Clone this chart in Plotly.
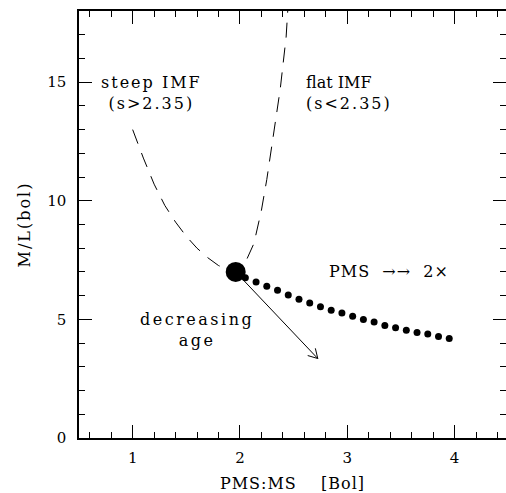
import math
import plotly.graph_objects as go

# ---------------- data ----------------
steep_x = [1.00, 1.10, 1.20, 1.30, 1.40, 1.50, 1.60, 1.70, 1.80, 1.90, 1.96]
steep_y = [13.0, 11.8, 10.7, 9.8, 9.1, 8.5, 8.0, 7.6, 7.27, 7.06, 7.0]
flat_x = [1.96, 2.05, 2.13, 2.20, 2.25, 2.31, 2.375, 2.43, 2.445]
flat_y = [7.0, 7.4, 8.2, 9.6, 10.9, 12.8, 14.7, 16.9, 18.0]

pms_x = [2.05, 2.15, 2.25, 2.35, 2.45, 2.55, 2.65, 2.75, 2.85, 2.95,
         3.05, 3.15, 3.25, 3.35, 3.45, 3.55, 3.65, 3.75, 3.85, 3.95]
pms_y = [6.76, 6.58, 6.40, 6.23, 6.03, 5.85, 5.69, 5.53, 5.39, 5.27,
         5.13, 5.00, 4.89, 4.74, 4.65, 4.54, 4.45, 4.38, 4.28, 4.19]

big_x = [1.96]
big_y = [7.0]

arrow_start = [1.96, 7.0]
arrow_end = [2.725, 3.35]

x_major = [1, 2, 3, 4]
y_major = [0, 5, 10, 15]

# ---------------- layout constants ----------------
W, H = 506, 493
ML, MR, MT, MB = 79, 0, 11, 55
x_range = [0.5, 4.479]
y_range = [0, 18]
FONT = "DejaVu Serif"


def sp(t, ls=2.0):
    return f'<span style="letter-spacing:{ls}px">{t}</span>'


fig = go.Figure()

# dashed IMF curve
fig.add_trace(go.Scatter(
    x=steep_x + flat_x[1:], y=steep_y + flat_y[1:], mode="lines",
    line=dict(color="black", width=1, dash="15px,10px"),
    hoverinfo="skip", showlegend=False))

# arrow shaft + open head (head computed in pixel space)
px_x = (W - ML - MR) / (x_range[1] - x_range[0])
px_y = (H - MT - MB) / (y_range[1] - y_range[0])
dx = (arrow_end[0] - arrow_start[0]) * px_x
dy = (arrow_end[1] - arrow_start[1]) * px_y
L = math.hypot(dx, dy)
ux, uy = -dx / L, -dy / L
head_len, ang = 10.5, math.radians(30)
heads = []
for s in (1, -1):
    c, si = math.cos(s * ang), math.sin(s * ang)
    rx, ry = ux * c - uy * si, ux * si + uy * c
    heads.append((arrow_end[0] + rx * head_len / px_x, arrow_end[1] + ry * head_len / px_y))

fig.add_trace(go.Scatter(
    x=[arrow_start[0], arrow_end[0], None, heads[0][0], arrow_end[0], heads[1][0]],
    y=[arrow_start[1], arrow_end[1], None, heads[0][1], arrow_end[1], heads[1][1]],
    mode="lines", line=dict(color="black", width=1),
    hoverinfo="skip", showlegend=False))

# PMS dotted sequence
fig.add_trace(go.Scatter(
    x=pms_x, y=pms_y, mode="markers",
    marker=dict(color="black", size=7, line=dict(width=0)),
    hoverinfo="skip", showlegend=False))

# big dot
fig.add_trace(go.Scatter(
    x=big_x, y=big_y, mode="markers",
    marker=dict(color="black", size=20, line=dict(width=0)),
    hoverinfo="skip", showlegend=False))

afont = dict(family=FONT, size=16, color="black")
fig.add_annotation(x=1.175, y=14.55, text=sp("steep IMF") + "<br>" + sp("(s&gt;2.35)"),
                   showarrow=False, font=afont, align="center")
fig.add_annotation(x=2.60, y=14.55, text=sp("flat IMF", 0.0) + "<br>" + sp("(s&lt;2.35)"),
                   showarrow=False, font=afont, align="left", xanchor="left")
fig.add_annotation(x=1.60, y=4.55, text=sp("decreasing", 2.5) + "<br>" + sp("age", 2.5),
                   showarrow=False, font=afont, align="center")
fig.add_annotation(x=3.39, y=7.0, text=sp("PMS\u00a0\u00a0\u2192\u2192\u00a0\u00a02\u00d7", 1.0),
                   showarrow=False, font=afont)

tickfont = dict(family=FONT, size=15, color="black")
common = dict(
    ticks="inside", ticklen=13, tickwidth=1, tickcolor="black",
    showline=True, linecolor="black", linewidth=1.5, mirror="ticks",
    showgrid=False, zeroline=False, tickfont=tickfont, automargin=False,
)

fig.update_layout(
    width=W, height=H,
    margin=dict(l=ML, r=MR, t=MT, b=MB, pad=0),
    paper_bgcolor="white", plot_bgcolor="white",
    showlegend=False, hovermode=False,
    xaxis=dict(range=x_range, tickmode="array", tickvals=x_major,
               ticktext=[str(v) for v in x_major],
               minor=dict(ticks="inside", ticklen=6.5, tickwidth=1, tickcolor="black",
                          tick0=0, dtick=0.2, showgrid=False),
               ticklabelstandoff=5,
               title=dict(text=sp("PMS:MS\u00a0\u00a0\u00a0\u00a0[Bol]", 1.0),
                          font=dict(family=FONT, size=16, color="black"), standoff=12),
               **common),
    yaxis=dict(range=y_range, tickmode="array", tickvals=y_major,
               ticktext=[str(v) for v in y_major],
               minor=dict(ticks="inside", ticklen=6.5, tickwidth=1, tickcolor="black",
                          tick0=0, dtick=1, showgrid=False),
               ticklabelstandoff=8,
               title=dict(text=sp("M/L(bol)", 2.0),
                          font=dict(family=FONT, size=16, color="black"), standoff=13),
               **common),
)

fig.write_html("out.html", config={"displayModeBar": False},
               post_script="document.body.style.margin='0';document.body.style.overflow='hidden';")
